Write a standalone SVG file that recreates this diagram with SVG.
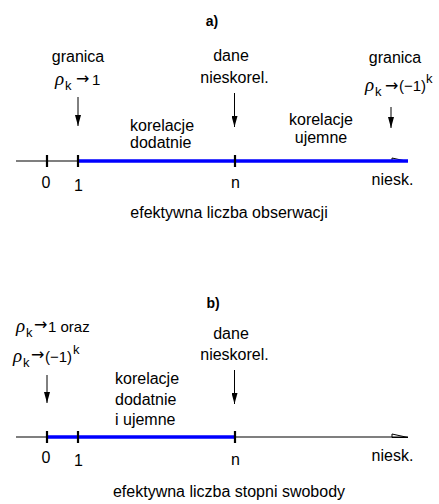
<svg xmlns="http://www.w3.org/2000/svg" width="439" height="504" viewBox="0 0 439 504">
<style>
text{font-family:"Liberation Sans",Arial,sans-serif;font-size:16px;fill:#000}
.t{font-weight:bold;font-size:14px}
.m{text-anchor:middle}
.rho{font-family:"Liberation Serif",serif;font-style:italic;font-size:19px}
.sub{font-size:13px}
.arr{font-family:"DejaVu Sans",sans-serif;font-size:16px}
.f{font-size:15px}
.axis{stroke:#000;stroke-width:1.2;fill:none}
.blue{stroke:#0000ff;stroke-width:3.5;fill:none}
.tick{stroke:#000;stroke-width:2.2}
.ptr{stroke:#000;stroke-width:1;marker-end:url(#ah)}
.oh{fill:none;stroke:#000;stroke-width:1}
</style>
<defs>
<marker id="ah" markerUnits="userSpaceOnUse" markerWidth="6" markerHeight="12" viewBox="0 0 6 12" refX="3" refY="11" orient="0">
<path d="M0,0 L6,0 L3,11 Z" fill="#000"/>
</marker>
</defs>

<g id="panel-a-title"><text class="t m" x="212" y="26">a)</text></g>

<g id="connectors">
<line class="axis" x1="16" y1="161" x2="408" y2="161"/>
<polygon class="oh" points="392,158 408,161.5 392,161.5"/>
<line class="blue" x1="78" y1="161" x2="408" y2="161"/>
<line class="tick" x1="47" y1="155" x2="47" y2="167"/>
<line class="tick" x1="78" y1="155" x2="78" y2="167"/>
<line class="tick" x1="235" y1="155" x2="235" y2="167"/>
<line class="ptr" x1="78" y1="97" x2="78" y2="126"/>
<line class="ptr" x1="234.5" y1="93" x2="234.5" y2="127"/>
<line class="ptr" x1="391" y1="107" x2="391" y2="128"/>

<line class="axis" x1="16" y1="437" x2="408" y2="437"/>
<polygon class="oh" points="392,434 408,437.5 392,437.5"/>
<line class="blue" x1="47" y1="437" x2="235" y2="437"/>
<line class="tick" x1="47" y1="431" x2="47" y2="443"/>
<line class="tick" x1="78" y1="431" x2="78" y2="443"/>
<line class="tick" x1="235" y1="431" x2="235" y2="443"/>
<line class="ptr" x1="47" y1="375" x2="47" y2="403"/>
<line class="ptr" x1="234.5" y1="370" x2="234.5" y2="404"/>
</g>

<g id="a-limit1">
<text class="m" x="78" y="62">granica</text>
<text class="rho" x="55" y="85">ρ</text><text class="sub" x="65" y="90">k</text><text class="arr" x="76" y="84">→</text><text class="f" x="92" y="85">1</text>
</g>
<g id="a-uncorr">
<text class="m" x="231" y="61">dane</text>
<text class="m" x="234.5" y="83">nieskorel.</text>
</g>
<g id="a-limit2">
<text class="m" x="395" y="63">granica</text>
<text class="rho" x="365" y="91">ρ</text><text class="sub" x="375" y="96">k</text><text class="arr" x="385" y="90.5">→</text><text class="f" x="399" y="91">(−1)</text><text class="sub" x="426" y="83">k</text>
</g>
<g id="a-pos">
<text x="130" y="131">korelacje</text>
<text x="130" y="148">dodatnie</text>
</g>
<g id="a-neg">
<text class="m" x="321" y="125">korelacje</text>
<text class="m" x="321" y="143">ujemne</text>
</g>
<g id="a-labels">
<text class="m" x="46" y="188">0</text>
<text class="m" x="78.5" y="191">1</text>
<text class="m" x="235.5" y="188">n</text>
<text class="m" x="392.5" y="185">niesk.</text>
<text class="m" x="229" y="218">efektywna liczba obserwacji</text>
</g>

<g id="panel-b-title"><text class="t m" x="213" y="308">b)</text></g>
<g id="b-limits">
<text class="rho" x="16" y="332">ρ</text><text class="sub" x="26" y="337">k</text><text class="arr" x="34" y="330">→</text><text class="f" x="48" y="332">1 oraz</text>
<text class="rho" x="13" y="362">ρ</text><text class="sub" x="23" y="367">k</text><text class="arr" x="31" y="360">→</text><text class="f" x="45" y="362">(−1)</text><text class="sub" x="73" y="354">k</text>
</g>
<g id="b-uncorr">
<text class="m" x="231" y="339">dane</text>
<text class="m" x="234.5" y="360">nieskorel.</text>
</g>
<g id="b-posneg">
<text x="115" y="384">korelacje</text>
<text x="115" y="405">dodatnie</text>
<text x="115" y="425">i ujemne</text>
</g>
<g id="b-labels">
<text class="m" x="46" y="463">0</text>
<text class="m" x="78.5" y="466">1</text>
<text class="m" x="235.5" y="465">n</text>
<text class="m" x="392.5" y="461">niesk.</text>
<text class="m" x="229" y="497">efektywna liczba stopni swobody</text>
</g>
</svg>
